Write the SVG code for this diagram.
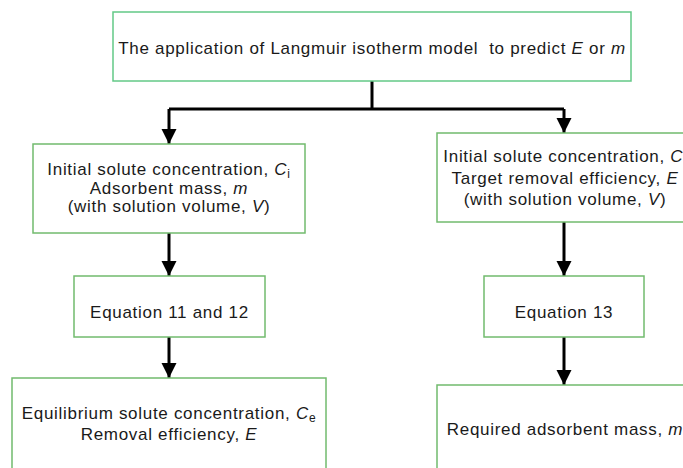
<svg xmlns="http://www.w3.org/2000/svg" width="683" height="468" viewBox="0 0 683 468">
<defs>
<style>
.box{fill:#ffffff;stroke:#72bb6e;stroke-width:1.5}
.top{fill:#ffffff;stroke:#63c987;stroke-width:1.5}
.t{font-family:"Liberation Sans",Arial,sans-serif;font-size:17px;fill:#1a1a1a;text-anchor:middle;letter-spacing:0.7px;white-space:pre}
.i{font-style:italic}
.sub{font-size:12px}
.c{fill:none;stroke:#000000;stroke-width:3}
</style>
<marker id="ah" markerUnits="userSpaceOnUse" markerWidth="16" markerHeight="16" viewBox="0 0 16 16" refX="15" refY="8" orient="auto">
<path d="M0,0.5 L15,8 L0,15.5 Z" fill="#000000"/>
</marker>
</defs>
<rect width="683" height="468" fill="#ffffff"/>
<g id="connectors">
<path class="c" d="M372,81 V109"/>
<path class="c" d="M169,109 H564"/>
<path class="c" d="M169,109 V144" marker-end="url(#ah)"/>
<path class="c" d="M564,109 V133" marker-end="url(#ah)"/>
<path class="c" d="M169,233 V276" marker-end="url(#ah)"/>
<path class="c" d="M564,222 V276" marker-end="url(#ah)"/>
<path class="c" d="M169,337 V378" marker-end="url(#ah)"/>
<path class="c" d="M564,337 V385" marker-end="url(#ah)"/>
</g>
<g id="n-top">
<rect class="top" x="113" y="12" width="518" height="69"/>
<text class="t" x="372" y="54">The application of Langmuir isotherm model&#160; to predict <tspan class="i">E</tspan> or <tspan class="i">m</tspan></text>
</g>
<g id="n-left-input">
<rect class="box" x="33" y="144" width="272" height="89"/>
<text class="t" x="169" y="175">Initial solute concentration, <tspan class="i">C</tspan><tspan class="sub" dy="3">i</tspan></text>
<text class="t" x="169" y="194">Adsorbent mass, <tspan class="i">m</tspan></text>
<text class="t" x="169" y="212">(with solution volume, <tspan class="i">V</tspan>)</text>
</g>
<g id="n-right-input">
<rect class="box" x="437" y="133" width="256" height="89"/>
<text class="t" x="565" y="162">Initial solute concentration, <tspan class="i">C</tspan><tspan class="sub" dy="3">i</tspan></text>
<text class="t" x="565" y="184">Target removal efficiency, <tspan class="i">E</tspan></text>
<text class="t" x="565" y="205">(with solution volume, <tspan class="i">V</tspan>)</text>
</g>
<g id="n-eq1112">
<rect class="box" x="74" y="276" width="191" height="61"/>
<text class="t" x="169.5" y="318">Equation 11 and 12</text>
</g>
<g id="n-eq13">
<rect class="box" x="484" y="276" width="160" height="61"/>
<text class="t" x="564" y="318">Equation 13</text>
</g>
<g id="n-left-output">
<rect class="box" x="12" y="378" width="314" height="100"/>
<text class="t" x="169" y="419">Equilibrium solute concentration, <tspan class="i">C</tspan><tspan class="sub" dy="3">e</tspan></text>
<text class="t" x="169" y="440">Removal efficiency, <tspan class="i">E</tspan></text>
</g>
<g id="n-right-output">
<rect class="box" x="437" y="385" width="256" height="100"/>
<text class="t" x="565" y="435">Required adsorbent mass, <tspan class="i">m</tspan></text>
</g>
</svg>
